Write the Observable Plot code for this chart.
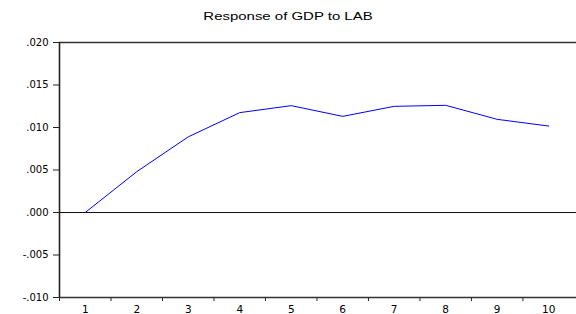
<!DOCTYPE html>
<html>
<head>
<meta charset="utf-8">
<script src="https://cdn.jsdelivr.net/npm/d3@7"></script>
<script src="https://cdn.jsdelivr.net/npm/@observablehq/plot@0.6"></script>
<style>
  html, body { margin: 0; padding: 0; background: #fff; }
  #title { width: 576px; height: 30px; position: relative; }
  #title span {
    position: absolute; left: 288px; top: 10px;
    font-family: "Liberation Sans", Arial, sans-serif; font-size: 11.5px; line-height: 13px;
    color: #000; white-space: nowrap;
    transform: translateX(-50%) scaleX(1.3);
  }
</style>
</head>
<body>
<div id="title"><span>Response of GDP to LAB</span></div>
<div id="chart"></div>
<script>
const title = "Response of GDP to LAB";
const periods = [1, 2, 3, 4, 5, 6, 7, 8, 9, 10];
const response = [0.0000, 0.0048, 0.0089, 0.01175, 0.01257, 0.01131, 0.01249, 0.01261, 0.01096, 0.01017];
const yTicks = [-0.010, -0.005, 0.000, 0.005, 0.010, 0.015, 0.020];
const xBoundaries = [0.5, 1.5, 2.5, 3.5, 4.5, 5.5, 6.5, 7.5, 8.5, 9.5];

const data = periods.map((p, i) => ({period: p, value: response[i]}));
const fmtY = d => {
  const s = d3.format(".3f")(Math.abs(d)).replace(/^0/, "");
  return (d < 0 ? "-" : "") + s;
};

const chart = Plot.plot({
  width: 576,
  height: 284,
  marginLeft: 59,
  marginRight: 0,
  marginTop: 12,
  marginBottom: 17,
  style: {fontFamily: "'DejaVu Sans', sans-serif", fontSize: "10px", color: "#000", background: "#fff"},
  x: {domain: [0.5, 10.54], axis: null},
  y: {domain: [-0.010, 0.020], axis: null},
  marks: [
    Plot.axisY({ticks: yTicks, tickFormat: fmtY, tickSize: 6, tickPadding: 5, stroke: "#222", fontSize: 10, label: null}),
    Plot.axisX({ticks: xBoundaries, tickFormat: () => "", tickSize: 4, stroke: "#222", label: null}),
    Plot.axisX({ticks: periods, tickFormat: d => String(d), tickSize: 0, tickPadding: 8, fontSize: 10.5, label: null}),
    Plot.ruleY([0], {stroke: "#111", strokeWidth: 1}),
    Plot.ruleY([0.020], {stroke: "#333", strokeWidth: 1.4}),
    Plot.ruleY([-0.010], {stroke: "#333", strokeWidth: 1.6}),
    Plot.ruleX([0.5], {stroke: "#222", strokeWidth: 1.6}),
    Plot.line(data, {x: "period", y: "value", stroke: "#0000ff", strokeWidth: 1})
  ]
});
document.getElementById("chart").appendChild(chart);
</script>
</body>
</html>
